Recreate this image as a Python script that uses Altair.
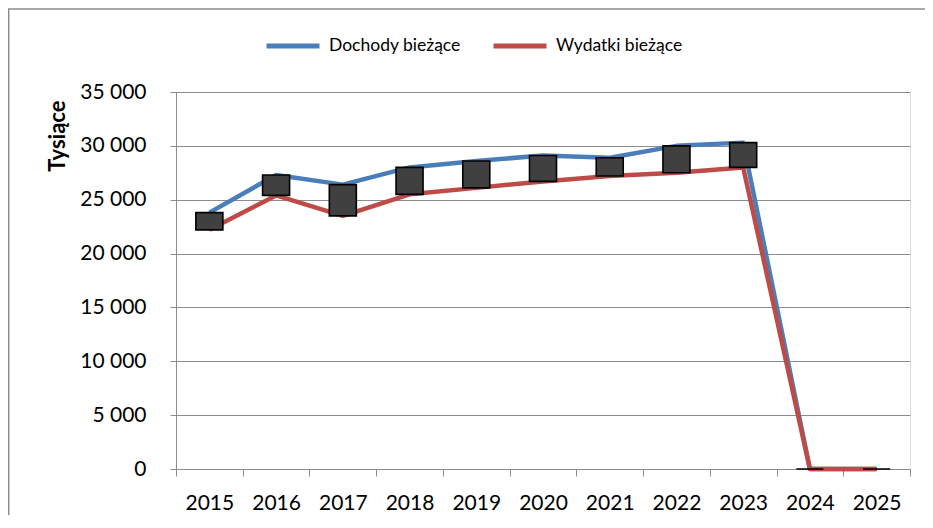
import altair as alt
import pandas as pd

years = ["2015", "2016", "2017", "2018", "2019", "2020", "2021", "2022", "2023", "2024", "2025"]
dochody = [23800, 27300, 26400, 28000, 28600, 29100, 28900, 30000, 30300, 0, 0]
wydatki = [22200, 25400, 23500, 25500, 26100, 26700, 27200, 27500, 28000, 0, 0]
series_names = ["Dochody bieżące", "Wydatki bieżące"]
series_colors = ["#4A7EBB", "#BE4B48"]
y_ticks = [0, 5000, 10000, 15000, 20000, 25000, 30000, 35000]

df = pd.DataFrame({"rok": years, "Dochody bieżące": dochody, "Wydatki bieżące": wydatki})

FONT = "Lato"
GRID = "#8c8c8c"

x_enc = alt.X(
    "rok:N",
    sort=years,
    scale=alt.Scale(type="band", paddingInner=0, paddingOuter=0),
    axis=alt.Axis(
        title=None,
        tickBand="extent",
        tickSize=7,
        tickColor=GRID,
        domainColor=GRID,
        labelAngle=0,
        labelFontSize=21,
        labelFont=FONT,
        labelColor="#000000",
        labelPadding=16,
        grid=False,
    ),
)

base = alt.Chart(df)

lines = base.transform_fold(series_names, as_=["seria", "wartosc"]).mark_line(
    strokeWidth=4.5, strokeJoin="round"
).encode(
    x=x_enc,
    y=alt.Y(
        "wartosc:Q",
        scale=alt.Scale(domain=[0, 35000], nice=False),
        axis=alt.Axis(
            title="Tysiące",
            titleFont=FONT,
            titleFontSize=22,
            titleFontWeight="bold",
            titleColor="#000000",
            titleX=-119,
            titleY=8,
            titleAlign="right",
            titleBaseline="middle",
            titleAngle=-90,
            values=y_ticks,
            labelExpr="replace(format(datum.value, ','), ',', ' ')",
            labelFont=FONT,
            labelFontSize=21,
            labelColor="#000000",
            labelPadding=24,
            tickSize=6,
            tickColor=GRID,
            domainColor=GRID,
            gridColor=GRID,
            gridWidth=1,
        ),
    ),
    color=alt.Color(
        "seria:N",
        sort=series_names,
        scale=alt.Scale(domain=series_names, range=series_colors),
        legend=alt.Legend(
            title=None,
            orient="none",
            direction="horizontal",
            columns=2,
            legendX=88,
            legendY=-75,
            symbolType="stroke",
            symbolSize=2809,
            symbolStrokeWidth=5,
            labelFont=FONT,
            labelFontSize=17.5,
            labelColor="#000000",
            labelOffset=7,
            columnPadding=22,
            padding=0,
        ),
    ),
    detail="seria:N",
)

bars = base.mark_bar(size=27, fill="#404040", stroke="#000000", strokeWidth=1.6).encode(
    x=alt.X("rok:N", sort=years),
    y=alt.Y("Wydatki bieżące:Q"),
    y2=alt.Y2("Dochody bieżące:Q"),
)

one = pd.DataFrame({"a": [0]})
frame_left = alt.Chart(one).mark_rule(stroke=GRID, strokeWidth=1.5).encode(
    x=alt.value(-167.3), y=alt.value(-83), y2=alt.value(500)
)
frame_top = alt.Chart(one).mark_rule(stroke=GRID, strokeWidth=1.5).encode(
    x=alt.value(-168), x2=alt.value(800), y=alt.value(-83)
)

chart = alt.layer(frame_left, frame_top, lines, bars).properties(
    width=734,
    height=377,
    autosize=alt.AutoSizeParams(type="none"),
    padding={"left": 168, "top": 84, "right": 15, "bottom": 46},
).configure_view(stroke=None).configure(background="white")

chart.save("out.html", embed_options={"renderer": "svg", "actions": False})
